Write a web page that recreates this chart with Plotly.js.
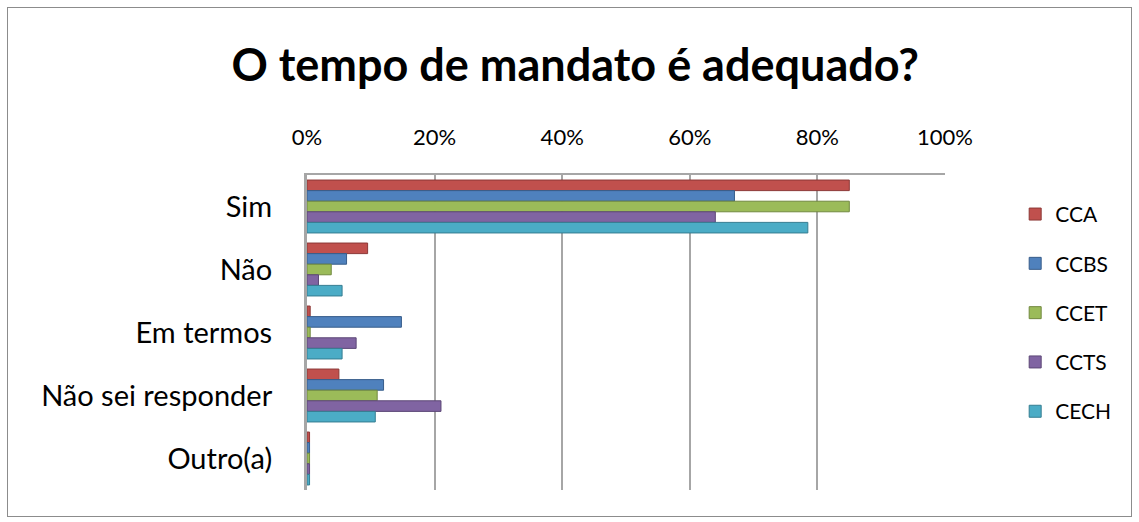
<!DOCTYPE html>
<html><head><meta charset="utf-8">
<script src="https://cdn.plot.ly/plotly-3.0.1.min.js"></script>
<style>
html,body{margin:0;padding:0;background:#fff;}
#wrap{position:absolute;left:7px;top:7px;width:1123px;height:508px;border:1px solid #8c8c8c;}
#chart{position:absolute;left:-8px;top:-8px;width:1139px;height:522px;}
</style></head>
<body>
<div id="wrap"><div id="chart"></div></div>
<script>
var categories = ["Sim", "Não", "Em termos", "Não sei responder", "Outro(a)"];
var seriesNames = ["CCA", "CCBS", "CCET", "CCTS", "CECH"];
var CCA  = [0.85, 0.095, 0.005, 0.05, 0.004];
var CCBS = [0.67, 0.062, 0.148, 0.12, 0.004];
var CCET = [0.85, 0.038, 0.005, 0.11, 0.004];
var CCTS = [0.64, 0.018, 0.077, 0.21, 0.004];
var CECH = [0.785, 0.055, 0.055, 0.107, 0.004];
var tickVals = [0, 0.2, 0.4, 0.6, 0.8, 1.0];
var tickText = ["0%", "20%", "40%", "60%", "80%", "100%"];
var colors = ["#C0504D", "#4F81BD", "#9BBB59", "#8064A2", "#4BACC6"];
var edges = ["#8C3836", "#385D8A", "#71893F", "#5C4776", "#357D91"];
var values = [CCA, CCBS, CCET, CCTS, CECH];

var font = "Lato, 'Open Sans', sans-serif";
var traces = seriesNames.map(function(n, i){
  return {type:"bar", orientation:"h", name:n, y:categories, x:values[i],
    legendgroup:n,
    marker:{color:colors[i], line:{color:edges[i], width:1}}};
});
var layout = {
  width:1139, height:522,
  paper_bgcolor:"rgba(0,0,0,0)", plot_bgcolor:"#fff",
  margin:{l:307, r:194, t:175, b:32},
  title:{text:"<b>O tempo de mandato é adequado?</b>", font:{family:font, size:45, color:"#000"}, x:0.505, xanchor:"center", y:0.875, yanchor:"middle"},
  barmode:"group", bargap:0.16, bargroupgap:0,
  xaxis:{side:"top", range:[0,1], tickvals:tickVals, ticktext:tickText, showgrid:true, gridcolor:"#a6a6a6", gridwidth:2,
    zeroline:false, showline:true, linecolor:"#a6a6a6", linewidth:2, ticks:"", ticklabelstandoff:19,
    tickfont:{family:font, size:22, color:"#000"}, fixedrange:true},
  yaxis:{autorange:"reversed", showline:true, linecolor:"#a6a6a6", linewidth:3, ticks:"", ticklabelstandoff:26,
    tickfont:{family:font, size:29, color:"#000"}, showgrid:false},
  showlegend:true,
  legend:{x:1.11, xanchor:"left", y:0.94, yanchor:"top", traceorder:"grouped", tracegroupgap:19,
    font:{family:font, size:21, color:"#000"}, bgcolor:"rgba(0,0,0,0)"}
};
Plotly.newPlot("chart", traces, layout, {displayModeBar:false, staticPlot:true});
</script>
</body></html>
